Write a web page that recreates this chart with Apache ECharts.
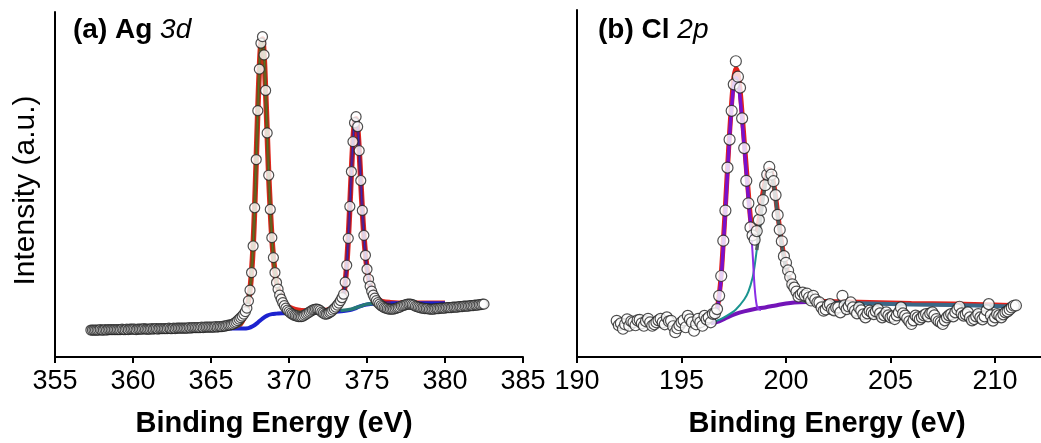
<!DOCTYPE html>
<html><head><meta charset="utf-8">
<script src="https://cdn.jsdelivr.net/npm/echarts@6/dist/echarts.min.js"></script>
<style>html,body{margin:0;padding:0;background:#fff}#c{width:1041px;height:443px}</style>
</head><body><div id="c"></div>
<script>
// ---------- (a) Ag 3d : measured spectrum (0.1 eV steps from 357.3 eV) ----------
const agStart = 357.3;
const agStep = 0.1;
const agCounts = [
  27,27,27,27,27,27,27.5,
  27,27,27.5,27,27.5,27.5,27.5,27.5,27.5,27.5,
  27.5,27.5,27.5,28,27.5,27.5,28,27.5,28,28,
  28,28,27.5,28,28,28,28,28.5,28,28,
  28,28,28.5,28,28.5,28.5,28,28.5,28.5,28.5,
  28.5,28.5,28.5,29,28.5,28.5,29,28.5,29,29,
  29,29,29,29,29,29,29.5,29,29.5,29.5,
  29.5,29.5,29.5,29.5,30,29.5,30,30,30,30,
  30,30,30,30.5,30,30.5,30.5,30.5,31,31,
  31.5,32,32,32.5,33,34,35,36.5,38,39.5,
  41,43,45.5,49,56.3,67,84.7,111.3,149.7,198,
  247,288.7,314.7,321.3,303,267.3,224.7,182.3,148,119.7,
  99.7,84.7,74.7,68,62,58,54.5,51.5,49,47,
  45.5,44,43,42,41.5,41,40.5,40.5,40.5,41,
  42,43,44,45,46,47,47.5,48,48,47.5,
  46.5,45,44,43,43,43.5,44.5,45.5,47,48.5,
  50,52,54,56.5,59.5,63,75,92,119,151,
  186,216,235,241,231,207,177,147,122,102,
  88,78,71,66,62,59,56.5,54.5,53,51.5,
  50.5,49.5,49,48.5,48,48,48,48,48.5,49,
  49.5,50,51,51.5,52,52.5,53,53,53,52.5,
  52,51,50.5,50,49.5,49,49,48.5,48.5,48.5,
  48,48,48,48,48.5,48.5,48.5,49,49,49,
  49,49.5,49.5,49.5,49.5,50,50,50,50,50.5,
  50.5,50.5,51,51,51,51,51.5,51.5,51.5,52,
  52,52,52.5,52.5,53,53
];
// fitted curves, [binding energy, intensity]
const agEnvelope = [[366.4,30],[366.8,32],[367.0,36],[367.2,43],[367.3,48],[367.4,56],[367.5,67],[367.6,85],[367.7,111],[367.8,150],[367.9,198],[368.0,247],[368.1,289],[368.2,315],[368.3,319],[368.4,303],[368.5,267],[368.6,225],[368.7,182],[368.8,148],[368.9,120],[369.0,100],[369.1,85],[369.2,75],[369.4,64],[369.6,57],[369.8,52.5],[370.0,50],[370.4,47.5],[370.8,46.5],[371.5,46],[372.2,46.5],[372.6,47.5],[373.0,49],[373.2,51],[373.4,56],[373.5,62],[373.6,74],[373.7,92],[373.8,119],[373.9,151],[374.0,186],[374.1,216],[374.2,235],[374.3,239],[374.4,230],[374.5,207],[374.6,177],[374.7,147],[374.8,122],[374.9,103],[375.0,89],[375.1,79],[375.2,72],[375.4,65],[375.6,60],[375.8,57],[376.0,55.5],[376.5,54.5],[377.0,54],[378.0,54],[379.0,54],[380.0,54]];
const agComp52 = [[366.4,29],[366.8,31.5],[367.0,35],[367.2,42],[367.3,47.5],[367.4,56],[367.5,67],[367.6,85],[367.7,111],[367.8,150],[367.9,198],[368.0,247],[368.1,289],[368.2,315],[368.3,319],[368.4,303],[368.5,267],[368.6,225],[368.7,182],[368.8,148],[368.9,120],[369.0,100],[369.1,85],[369.2,75],[369.4,63],[369.6,56],[369.8,51.5],[370.0,48.5],[370.4,46],[370.8,45],[371.5,44.5]];
const agComp32 = [[372.5,45],[373.0,47.5],[373.2,50],[373.4,55],[373.5,62],[373.6,74],[373.7,92],[373.8,119],[373.9,151],[374.0,186],[374.1,216],[374.2,235],[374.3,239],[374.4,230],[374.5,207],[374.6,177],[374.7,147],[374.8,122],[374.9,103],[375.0,89],[375.1,79],[375.2,72],[375.4,65],[375.6,60],[375.8,57],[376.0,55],[376.5,54]];
const agBackground = [[365.6,29.5],[366.0,29],[366.5,28.5],[367.0,28.5],[367.4,29],[367.7,31],[368.0,34.5],[368.3,38.5],[368.6,41.5],[368.9,43],[369.2,43.5],[369.6,44],[370.5,44],[371.5,44.5],[372.5,45],[373.0,45.5],[373.5,46],[373.9,47],[374.2,48.5],[374.5,50.5],[374.8,52],[375.1,53],[375.5,53.5],[376.0,54],[377.0,54],[378.0,54],[379.0,54],[380.0,54]];
const agTail = [[373.3,46.5],[374.0,48],[374.5,50.5],[375.0,53],[375.6,54]];

// ---------- (b) Cl 2p : measured spectrum (0.1 eV steps from 191.9 eV) ----------
const clStart = 191.9;
const clStep = 0.1;
const clCounts = [
  36.5,
  32,34,28.5,33,38,31.5,36,35,32,37,
  37.5,34,31.5,36,38.5,35,31.5,33,35,37,
  38.5,35,33,40,36,36.5,31,25,29,32,
  35,37,30,41.5,38,35,26.5,33,38.5,35,
  31.5,41.5,38,40,35,43.5,44,48.3,61.7,81.7,
  117.3,147.7,191,219.3,248.3,275,298.3,282.7,271.7,240.7,
  210.7,177.7,155,130.7,122.7,118.3,127,138.3,148.3,158.3,
  173.3,184,191.7,184,177.3,163.3,143.3,128.3,116.7,101.7,
  95,87.3,80.7,73.3,70,66,61,63,65,62,
  64,60,57,61.7,58,55,55,50,46.7,48,
  52,53.3,48.3,47,50,50,45,61.7,52,48.3,
  51,55,50,46.7,44,50,47,43,40,44,
  46.7,45,43.3,46,48.3,44,40,42,45,42,
  40,41,38.3,42,45,50,44,41.7,39,36,
  33.3,37,41.7,40,38,40,42,43.3,41,44,
  45,42,38.3,36,35,33.3,37,40,42,43.3,
  41,45,48,50.7,44,41.7,43,45,40,37,
  38.3,41,43.3,40,38,41,47,53.3,42,36.7,
  40,43.3,42,40,43,45,46,48,50,51.7,
  52
];
const clEnvelope = [[196.4,35],[196.6,41],[196.7,48],[196.8,62],[196.9,83],[197.0,116],[197.1,152],[197.2,190],[197.3,226],[197.4,257],[197.5,281],[197.6,291],[197.7,286],[197.8,270],[197.9,245],[198.0,218],[198.1,191],[198.2,165],[198.3,140],[198.4,126],[198.5,120],[198.6,126],[198.7,137],[198.8,152],[198.9,166],[199.0,177],[199.1,186],[199.2,189],[199.3,186],[199.4,176],[199.5,162],[199.6,145],[199.7,129],[199.8,114],[199.9,102],[200.0,92],[200.2,77],[200.4,67],[200.6,61],[200.8,58],[201.0,57],[201.5,56.5],[202.0,56],[204.0,55],[206.0,54],[208.0,53.5],[210.0,52.5],[210.8,52]];
const clComp32 = [[196.4,34.5],[196.6,40],[196.7,47],[196.8,60],[196.9,80],[197.0,112],[197.1,148],[197.2,186],[197.3,222],[197.4,252],[197.5,274],[197.6,282],[197.7,277],[197.8,262],[197.9,238],[198.0,212],[198.1,186],[198.2,160],[198.3,135],[198.4,105],[198.5,70],[198.6,52],[198.7,48],[198.8,47.5]];
const clComp12 = [[196.4,34.5],[196.8,37.5],[197.2,42],[197.6,48],[198.0,58],[198.2,66],[198.4,80],[198.5,92],[198.6,108],[198.7,124],[198.8,142],[198.9,159],[199.0,173],[199.1,183],[199.2,187],[199.3,184],[199.4,174],[199.5,160],[199.6,143],[199.7,127],[199.8,112],[199.9,100],[200.0,90],[200.2,76],[200.4,66],[200.6,60],[200.8,57],[201.0,56],[201.5,55.5]];
const clBackground = [[196.4,34],[196.8,36],[197.2,40],[197.6,43.5],[198.0,46],[198.5,48.5],[199.0,50],[199.5,52],[200.0,54],[200.4,55],[201.0,55.5],[202.0,55],[204.0,54],[206.0,53],[208.0,52.5],[210.0,51.5],[210.8,51]];

const FONT = "'Liberation Sans', Arial, Helvetica, sans-serif";

function spectrum(start, step, counts) {
  return counts.map((v, i) => [Math.round((start + i * step) * 10) / 10, v]);
}

function xAxisOf(gi, mn, mx, padding) {
  return {
    gridIndex: gi, type: 'value', min: mn, max: mx, interval: 5,
    axisLine: { onZero: false, lineStyle: { color: '#000', width: 2 } },
    axisTick: { length: 6, lineStyle: { color: '#000', width: 2 } },
    axisLabel: { fontSize: 27, color: '#000', margin: 11, fontFamily: FONT, showMaxLabel: mx % 5 === 0 },
    splitLine: { show: false },
    name: 'Binding Energy (eV)', nameLocation: 'middle', nameGap: 52,
    nameTextStyle: { fontSize: 29, fontWeight: 'bold', color: '#000', fontFamily: FONT, padding: padding }
  };
}
function yAxisOf(gi, mx, named) {
  const a = {
    gridIndex: gi, type: 'value', min: 0, max: mx,
    axisLine: { show: true, lineStyle: { color: '#000', width: 2 } },
    axisTick: { show: false }, axisLabel: { show: false }, splitLine: { show: false }
  };
  if (named) {
    a.name = 'Intensity (a.u.)'; a.nameLocation = 'middle'; a.nameGap = 14;
    a.nameTextStyle = { fontSize: 30, color: '#000', fontFamily: FONT, padding: [0, 12, 0, 0] };
  }
  return a;
}
function line(gi, data, color, width, z, smooth) {
  return { type: 'line', xAxisIndex: gi, yAxisIndex: gi, data: data, showSymbol: false, symbol: 'none',
    smooth: smooth === undefined ? 0.3 : smooth, lineStyle: { color: color, width: width }, z: z, silent: true, animation: false };
}
function dots(gi, data, size) {
  return { type: 'scatter', xAxisIndex: gi, yAxisIndex: gi, data: data, symbol: 'circle', symbolSize: size,
    itemStyle: { color: '#ffffff', borderColor: '#222222', borderWidth: 1.2 }, z: 10, animation: false };
}

const chart = echarts.init(document.getElementById('c'), null, { renderer: 'canvas' });
const rich = {
  b: { fontSize: 28, fontWeight: 'bold', color: '#000', fontFamily: FONT },
  i: { fontSize: 28, fontWeight: 'normal', fontStyle: 'italic', color: '#000', fontFamily: FONT }
};
chart.setOption({
  backgroundColor: '#ffffff',
  animation: false,
  title: [
    { text: '{b|(a) Ag }{i|3d}', left: 73, top: 16, padding: 0, textStyle: { rich: rich } },
    { text: '{b|(b) Cl }{i|2p}', left: 598, top: 16, padding: 0, textStyle: { rich: rich } }
  ],
  grid: [
    { left: 55, top: 12, width: 468, height: 346 },
    { left: 577, top: 10, width: 464, height: 350 }
  ],
  xAxis: [ xAxisOf(0, 355, 385, [0, 30, 0, 0]), xAxisOf(1, 190, 212.2, [0, 0, 0, 36]) ],
  yAxis: [ yAxisOf(0, 346, true), yAxisOf(1, 350, false) ],
  series: [
    line(0, agEnvelope, '#e2261e', 5.5, 2),
    line(0, agBackground, '#1d22cf', 4, 3),
    line(0, agTail, '#267a76', 3.5, 3),
    line(0, agComp52, '#7c4716', 3.5, 4),
    line(0, agComp52, '#4d7a28', 1, 5),
    line(0, agComp32, '#7b1650', 3.5, 4),
    line(0, agComp32, '#2b2bc8', 1, 5),
    dots(0, spectrum(agStart, agStep, agCounts), 10),

    line(1, clEnvelope, '#e2221c', 5, 2),
    line(1, clBackground.filter(p => p[0] <= 201.2), '#7314b8', 4, 3),
    line(1, clBackground.filter(p => p[0] >= 201.0), '#3b6887', 4, 3),
    line(1, clComp12, '#1a9490', 2, 4),
    line(1, clComp12.filter(p => p[0] >= 198.6), '#4e5d5d', 3.5, 5),
    line(1, clComp32, '#8a2ee6', 2, 4),
    line(1, clComp32.filter(p => p[0] <= 198.3), '#7a10cc', 3.5, 5),
    dots(1, spectrum(clStart, clStep, clCounts), 11)
  ]
});
</script></body></html>
